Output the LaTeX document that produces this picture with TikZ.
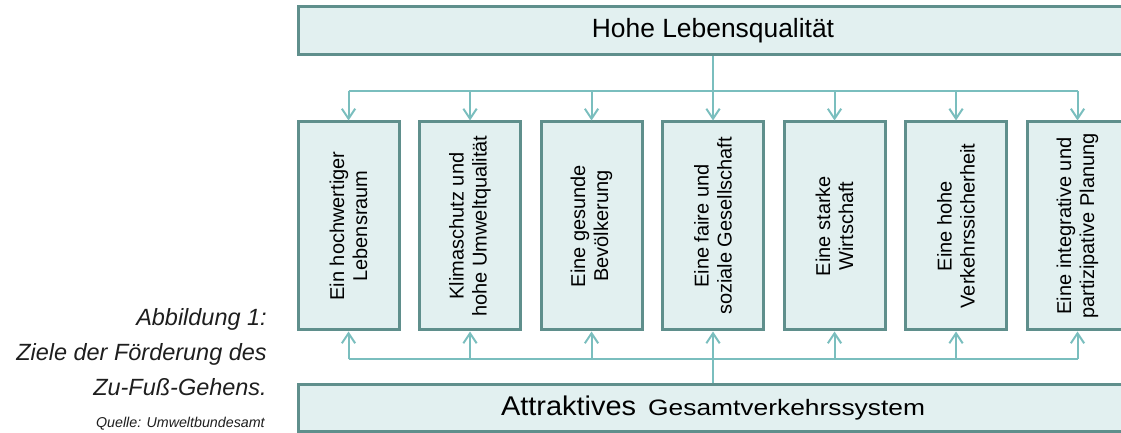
\documentclass[tikz,border=0pt]{standalone}
\usepackage{fontspec}
\setmainfont{Liberation Sans}
\usetikzlibrary{arrows.meta,calc}

\definecolor{zielrand}{RGB}{95,143,140}
\definecolor{zielfill}{RGB}{226,240,240}
\definecolor{zielpfeil}{RGB}{122,190,190}
\definecolor{zieltext}{RGB}{30,30,30}

\tikzset{
  zielbox/.style={draw=zielrand, fill=zielfill, line width=2.25pt, inner sep=0pt},
  bus/.style={draw=zielpfeil, line width=1.5pt},
  pfeil/.style={bus, -{Straight Barb[length=7.5pt,width=10pt]}},
}

\begin{document}
\begin{tikzpicture}[x=0.75pt,y=0.75pt]
  \def\pitch{121.5}
  \def\zw{75.75pt}
  \def\zh{156pt}
  \useasboundingbox (0,0) rectangle (1121,432);
  \clip (0,0) rectangle (1121,432);

  % oberes Ziel
  \node[zielbox, minimum width=621.75pt, minimum height=36pt,
        font=\fontsize{19.8}{24}\selectfont] (lq) at (713,401) {Hohe Lebensqualität};

  % Teilziele, gedreht
  \foreach \i/\txt in {1/{Ein hochwertiger\\Lebensraum},
                       2/{Klimaschutz und\\hohe Umweltqualität},
                       3/{Eine gesunde\\Bevölkerung},
                       4/{Eine faire und\\soziale Gesellschaft},
                       5/{Eine starke\\Wirtschaft},
                       6/{Eine hohe\\Verkehrssicherheit},
                       7/{Eine integrative und\\partizipative Planung}} {
    \node[zielbox, minimum width=\zw, minimum height=\zh] (z\i) at ({348.5+(\i-1)*\pitch},206) {};
    \node[rotate=90, align=center, font=\fontsize{15}{17.25}\selectfont] (t\i) at (z\i.center) {\txt};
  }

  % unteres Ziel
  \node[zielbox, minimum width=621.75pt, minimum height=34.5pt] (gv) at (713,24)
    {\scalebox{1.07}[1]{\fontsize{20.3}{24}\selectfont Attraktives}\hspace{9pt}%
     \scalebox{1.18}[1]{\fontsize{16.75}{20}\selectfont Gesamtverkehrssystem}};

  % Verteilung oben
  \draw[bus] ($(z1.north)+(0,29)$) -- ($(z7.north)+(0,29)$);
  \draw[pfeil] (lq.south) -- (z4.north);
  \foreach \i in {1,2,3,5,6,7}
    \draw[pfeil] ($(z\i.north)+(0,29)$) -- (z\i.north);

  % Verteilung unten
  \draw[bus] ($(z1.south)+(0,-28)$) -- ($(z7.south)+(0,-28)$);
  \draw[pfeil] (gv.north) -- (z4.south);
  \foreach \i in {1,2,3,5,6,7}
    \draw[pfeil] ($(z\i.south)+(0,-28)$) -- (z\i.south);

  % Beschriftung links
  \node[anchor=east, align=right, inner sep=0pt, text=zieltext,
        font=\itshape\fontsize{17.6}{26.25}\selectfont] (abb) at (267,79.5)
    {Abbildung 1:\\Ziele der Förderung des\\Zu-Fuß-Gehens.};
  \node[anchor=base east, inner sep=0pt, text=zieltext,
        font=\itshape\fontsize{10.7}{13}\selectfont] (quelle) at (265,4)
    {Quelle: Umweltbundesamt};
\end{tikzpicture}
\end{document}
